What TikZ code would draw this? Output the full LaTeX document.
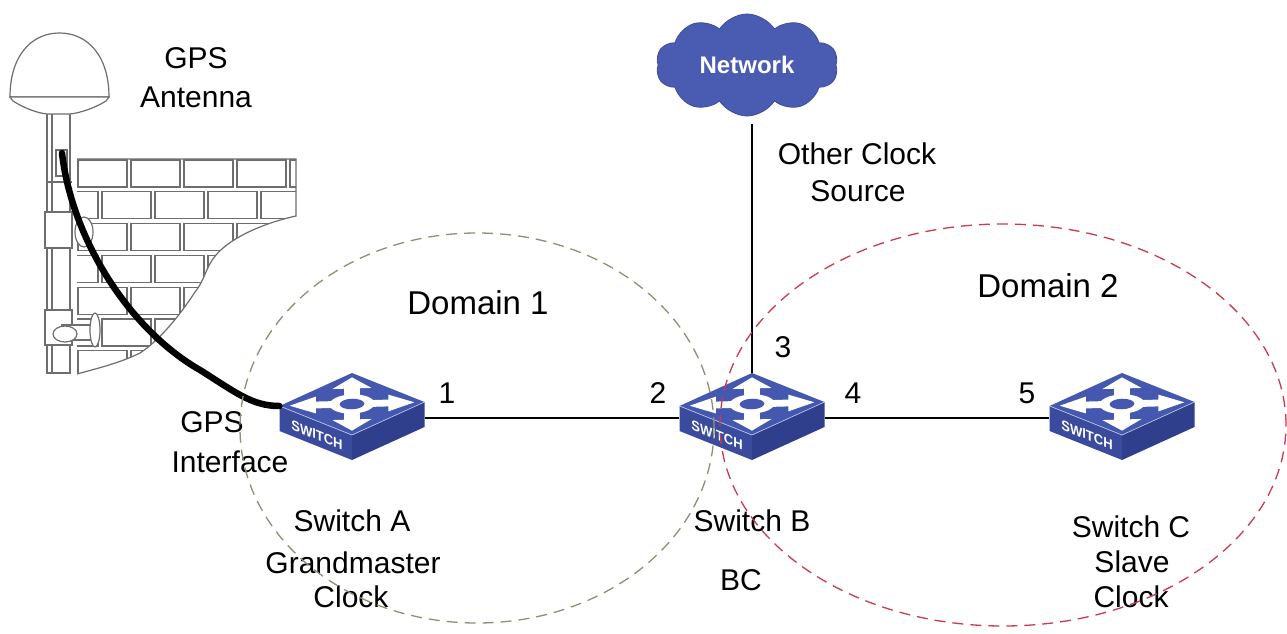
\documentclass[tikz,border=0pt]{standalone}
\usepackage{fontspec}
\setmainfont{Liberation Sans}
\usetikzlibrary{shapes.geometric,shapes.symbols}

\definecolor{swtop}{HTML}{4558B0}
\definecolor{swleft}{HTML}{3A4B9E}
\definecolor{swright}{HTML}{2F3F8C}
\definecolor{netblue}{HTML}{4A5BB2}
\definecolor{domgreen}{HTML}{8A9275}
\definecolor{domred}{HTML}{CC3A50}
\definecolor{wallgray}{HTML}{6E6E6E}

% isometric switch icon; #1 node name, #2/#3 centre (port line height)
\newcommand\drawswitch[3]{%
  \begin{scope}[shift={(#2,#3)}]
    \fill[swleft]  (-72.5,-12) -- (0,17) -- (0,42) -- (-72.5,13) -- cycle;
    \fill[swright] (0,17) -- (72.5,-16) -- (72.5,9) -- (0,42) -- cycle;
    \fill[swtop]   (-72.5,-12) -- (0,-45) -- (72.5,-16) -- (0,17) -- cycle;
    \draw[white!70!swtop, line width=0.6pt] (-72.5,-12) -- (0,17) -- (72.5,-16);
    \node[swlabel, cm={0.928,-0.371,0,1,(0,0)}] at (-35,17) {SWITCH};
    \begin{scope}[shift={(0,-14)}, x={(72.5pt,2pt)}, y={(0pt,31pt)}]
      \foreach \a/\b in {1/0,0/1,-1/0,0/-1}{
        \fill[white]
          ({0.24*\a+0.11*\b},{0.24*\b-0.11*\a}) --
          ({0.50*\a+0.11*\b},{0.50*\b-0.11*\a}) --
          ({0.50*\a+0.27*\b},{0.50*\b-0.27*\a}) --
          ({0.86*\a},{0.86*\b}) --
          ({0.50*\a-0.27*\b},{0.50*\b+0.27*\a}) --
          ({0.50*\a-0.11*\b},{0.50*\b+0.11*\a}) --
          ({0.24*\a-0.11*\b},{0.24*\b+0.11*\a}) -- cycle;
      }
      \fill[white] (0,0) circle (0.31);
      \fill[swtop] (0,0) circle (0.17);
    \end{scope}
  \end{scope}
  \node[swnode] (#1) at (#2,#3) {};
}

\begin{document}
\begin{tikzpicture}[x=1pt,y=-1pt,
  lbl/.style={font=\fontsize{30}{36}\selectfont, inner sep=0},
  domlbl/.style={font=\fontsize{33}{40}\selectfont, inner sep=0},
  swlabel/.style={font=\bfseries\fontsize{14}{16}\selectfont, text=white, inner sep=0},
  swnode/.style={minimum width=145pt, minimum height=90pt, inner sep=0, draw=none},
  link/.style={line width=1.5pt, black},
  cable/.style={line width=6.5pt, black, line cap=round},
  antline/.style={draw=wallgray, line width=1.2pt},
  brick/.style={draw=wallgray, line width=1.1pt, fill=white},
  clockdomain/.style={ellipse, inner sep=0, line width=1.3pt, dash pattern=on 11pt off 7pt}]

\useasboundingbox (0,0) rectangle (1287,634);
\fill[white] (0,0) rectangle (1287,634);

% ---- brick wall ----
\begin{scope}
  \clip (77,159) -- (296,159) -- (296,216)
    .. controls (268,222) and (232,236) .. (216,255)
    .. controls (205,268) and (205,280) .. (195,292)
    .. controls (180,315) and (160,340) .. (140,353)
    .. controls (120,363) and (95,369) .. (77,374) -- cycle;
  \foreach \r in {0,...,6}{
    \pgfmathsetmacro\yy{159+31.8*\r}
    \pgfmathsetmacro\xs{mod(\r,2)==0 ? 78 : 49}
    \foreach \c in {0,...,5}{
      \draw[brick] ({\xs+53*\c},{\yy+1}) rectangle ++(49,27);
    }
  }
\end{scope}
\draw[antline] (77,159) -- (296,159) -- (296,216)
    .. controls (268,222) and (232,236) .. (216,255)
    .. controls (205,268) and (205,280) .. (195,292)
    .. controls (180,315) and (160,340) .. (140,353)
    .. controls (120,363) and (95,369) .. (77,374);

% ---- antenna mast ----
\draw[antline, fill=white] (47,113) rectangle (70,373);
\draw[antline] (52,113) -- (52,373);
\draw[antline] (47,182) -- (72,182);
\draw[antline, fill=white] (84,232) ellipse [x radius=9, y radius=15];
\draw[antline, fill=white] (45,212) rectangle (72,248);
\draw[antline, fill=white] (45,310) rectangle (72,345);
\draw[antline, fill=white] (62,325) rectangle (92,340);
\draw[antline, fill=white] (95,330) ellipse [x radius=5, y radius=17];
\draw[antline, fill=white] (65,334) ellipse [x radius=12, y radius=8];
% dome
\draw[antline, fill=white] (10,97) .. controls (10,55) and (32,33) .. (59.5,33)
  .. controls (87,33) and (109,55) .. (109,97) -- cycle;
\draw[antline, fill=white] (10,97) -- (109,97) -- (106,101)
  .. controls (95,108) and (80,113) .. (70,114) -- (47,114)
  .. controls (37,113) and (24,108) .. (13,101) -- cycle;
\draw[antline, fill=white] (56,150) rectangle (67,176);
\coordinate (cableTop) at (62,153);

\node[lbl] (gpsA1) at (196,58) {GPS};
\node[lbl] (gpsA2) at (196,97) {Antenna};

% ---- network cloud ----
\node[cloud, cloud puffs=10, cloud puff arc=115, aspect=1.9, fill=netblue,
      draw=netblue!85!black, line width=0.8pt,
      minimum width=182pt, minimum height=102pt, inner sep=0,
      text=white, font=\bfseries\fontsize{24}{28}\selectfont] (net) at (747,65) {Network};

% ---- switches ----
\drawswitch{swA}{352}{418}
\drawswitch{swB}{752}{418}
\drawswitch{swC}{1122}{418}

% ---- links ----
\draw[cable] (cableTop) .. controls (72,240) and (130,330) .. (200,370)
  .. controls (235,392) and (252,406) .. ([yshift=12pt]swA.west);
\draw[link] (swA.east) -- (swB.west);
\draw[link] (swB.east) -- (swC.west);
\draw[link] (swB.north |- net.south) ++(0,8) -- (swB.north);

% ---- port numbers ----
\node[lbl] (p1) at (447,393) {1};
\node[lbl] (p2) at (658,393) {2};
\node[lbl] (p3) at (783,347) {3};
\node[lbl] (p4) at (853,393) {4};
\node[lbl] (p5) at (1027,393) {5};

% ---- labels ----
\node[lbl] (oc1) at (857,154) {Other Clock};
\node[lbl] (oc2) at (858,191) {Source};
\node[lbl] (gi1) at (212,422) {GPS};
\node[lbl] (gi2) at (230,462) {Interface};
\node[lbl] (sa1) at (352,521) {Switch A};
\node[lbl] (sa2) at (353,563) {Grandmaster};
\node[lbl] (sa3) at (351,597) {Clock};
\node[lbl] (sb1) at (752,521) {Switch B};
\node[lbl] (sb2) at (741,580) {BC};
\node[lbl] (sc1) at (1131,527) {Switch C};
\node[lbl] (sc2) at (1132,562) {Slave};
\node[lbl] (sc3) at (1131,597) {Clock};
\node[domlbl] (d1) at (478,303) {Domain 1};
\node[domlbl] (d2) at (1048,286) {Domain 2};

% ---- clock domains ----
\node[clockdomain, draw=domgreen, minimum width=474pt, minimum height=390pt] (dom1) at (477,428) {};
\node[clockdomain, draw=domred, minimum width=566pt, minimum height=402pt] (dom2) at (1003,425) {};

\end{tikzpicture}
\end{document}
